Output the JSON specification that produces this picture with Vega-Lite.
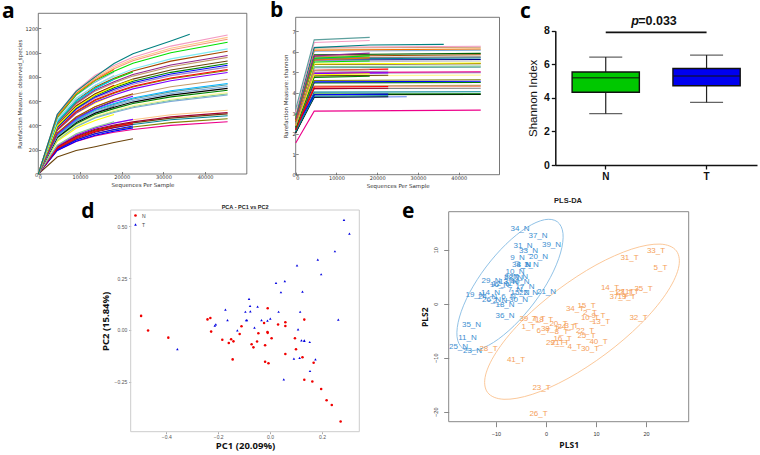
{"$schema":"https://vega.github.io/schema/vega-lite/v6.json","width":760,"height":455,"padding":0,"autosize":"none","background":"white","config":{"view":{"stroke":null},"axis":{"grid":false}},
"resolve":{"scale":{"x":"independent","y":"independent","color":"independent","shape":"independent"},"axis":{"x":"independent","y":"independent"}},
"layer":[
{"resolve":{"axis":{"x":"independent","y":"independent"}},"layer":[
{"data":{"values":[{}]},"mark":{"type":"rect","fillOpacity":0,"stroke":"#555","strokeWidth":0.8},"encoding":{"x":{"datum":0,"type":"quantitative","scale":{"domain":[0,50000],"range":[38.3,246.8],"nice":false,"zero":false},"axis":{"orient":"bottom","offset":-281,"values":[0,10000,20000,30000,40000],"format":"d","title":"Sequences Per Sample","domain":false,"tickSize":-2.5,"tickColor":"#333","tickWidth":0.6,"labelFont":"DejaVu Sans","labelFontSize":5,"labelColor":"#333","labelPadding":3,"titleFont":"DejaVu Sans","titleFontSize":5.5,"titleFontWeight":"normal","titleColor":"#333","titlePadding":3},"title":"Sequences Per Sample"},"x2":{"datum":50000},"y":{"datum":0,"type":"quantitative","scale":{"domain":[0,1323],"range":[174,13.3],"nice":false,"zero":false},"axis":{"orient":"left","offset":-38.3,"values":[0,200,400,600,800,1000,1200],"format":"d","title":"Rarefaction Measure: observed_species","domain":false,"tickSize":-2.5,"tickColor":"#333","tickWidth":0.6,"labelFont":"DejaVu Sans","labelFontSize":5,"labelColor":"#333","labelPadding":3,"titleFont":"DejaVu Sans","titleFontSize":5.5,"titleFontWeight":"normal","titleColor":"#333","titlePadding":3}},"y2":{"datum":1323}}},
{"data":{"values":[
{"s":"s53","p0":0,"p1":140,"p2":193,"p3":225,"p4":260,"p5":290},
{"s":"s31","p0":0,"p1":194,"p2":267,"p3":314,"p4":344,"p5":366,"p6":400,"p7":430},
{"s":"s30","p0":0,"p1":205,"p2":282,"p3":332,"p4":364,"p5":387,"p6":423,"p7":455},
{"s":"s29","p0":0,"p1":216,"p2":298,"p3":350,"p4":384,"p5":408,"p6":446,"p7":480},
{"s":"s28","p0":0,"p1":223,"p2":307,"p3":361,"p4":396,"p5":421,"p6":460,"p7":495},
{"s":"s27","p0":0,"p1":227,"p2":313,"p3":369,"p4":404,"p5":429,"p6":470,"p7":505},
{"s":"s26","p0":0,"p1":236,"p2":325,"p3":383,"p4":420,"p5":446,"p6":488,"p7":525},
{"s":"s52","p0":0,"p1":194,"p2":270,"p3":319,"p4":353,"p5":380},
{"s":"s51","p0":0,"p1":201,"p2":280,"p3":332,"p4":367,"p5":395},
{"s":"s50","p0":0,"p1":209,"p2":291,"p3":344,"p4":381,"p5":410},
{"s":"s49","p0":0,"p1":214,"p2":298,"p3":353,"p4":391,"p5":420},
{"s":"s48","p0":0,"p1":230,"p2":320,"p3":378,"p4":419,"p5":450},
{"s":"s43","p0":0,"p1":237,"p2":331,"p3":387,"p4":430},
{"s":"s42","p0":0,"p1":270,"p2":377,"p3":441,"p4":490},
{"s":"s41","p0":0,"p1":286,"p2":400,"p3":468,"p4":520},
{"s":"s40","p0":0,"p1":308,"p2":431,"p3":504,"p4":560},
{"s":"s39","p0":0,"p1":330,"p2":462,"p3":540,"p4":600},
{"s":"s38","p0":0,"p1":358,"p2":500,"p3":585,"p4":650},
{"s":"s25","p0":0,"p1":280,"p2":390,"p3":462,"p4":507,"p5":546,"p6":598,"p7":650},
{"s":"s24","p0":0,"p1":284,"p2":396,"p3":469,"p4":515,"p5":554,"p6":607,"p7":660},
{"s":"s23","p0":0,"p1":288,"p2":402,"p3":476,"p4":523,"p5":563,"p6":616,"p7":670},
{"s":"s22","p0":0,"p1":297,"p2":414,"p3":490,"p4":538,"p5":580,"p6":635,"p7":690},
{"s":"s21","p0":0,"p1":303,"p2":423,"p3":501,"p4":550,"p5":592,"p6":649,"p7":705},
{"s":"s20","p0":0,"p1":310,"p2":432,"p3":511,"p4":562,"p5":605,"p6":662,"p7":720},
{"s":"s19","p0":0,"p1":316,"p2":441,"p3":522,"p4":573,"p5":617,"p6":676,"p7":735},
{"s":"s18","p0":0,"p1":320,"p2":447,"p3":529,"p4":581,"p5":626,"p6":685,"p7":745},
{"s":"s17","p0":0,"p1":335,"p2":468,"p3":554,"p4":608,"p5":655,"p6":718,"p7":780},
{"s":"s47","p0":0,"p1":326,"p2":454,"p3":538,"p4":595,"p5":640},
{"s":"s46","p0":0,"p1":337,"p2":469,"p3":554,"p4":614,"p5":660},
{"s":"s37","p0":0,"p1":385,"p2":539,"p3":630,"p4":700},
{"s":"s36","p0":0,"p1":402,"p2":562,"p3":657,"p4":730},
{"s":"s16","p0":0,"p1":359,"p2":501,"p3":593,"p4":651,"p5":701,"p6":768,"p7":835},
{"s":"s15","p0":0,"p1":366,"p2":511,"p3":605,"p4":665,"p5":716,"p6":784,"p7":852},
{"s":"s14","p0":0,"p1":370,"p2":516,"p3":611,"p4":671,"p5":722,"p6":791,"p7":860},
{"s":"s13","p0":0,"p1":378,"p2":528,"p3":625,"p4":686,"p5":739,"p6":810,"p7":880},
{"s":"s12","p0":0,"p1":385,"p2":537,"p3":635,"p4":698,"p5":752,"p6":823,"p7":895},
{"s":"s11","p0":0,"p1":391,"p2":546,"p3":646,"p4":710,"p5":764,"p6":837,"p7":910},
{"s":"s10","p0":0,"p1":400,"p2":558,"p3":660,"p4":725,"p5":781,"p6":856,"p7":930},
{"s":"s09","p0":0,"p1":413,"p2":576,"p3":682,"p4":749,"p5":806,"p6":883,"p7":960},
{"s":"s08","p0":0,"p1":419,"p2":585,"p3":692,"p4":760,"p5":819,"p6":897,"p7":975},
{"s":"s07","p0":0,"p1":434,"p2":606,"p3":717,"p4":788,"p5":848,"p6":929,"p7":1010},
{"s":"s45","p0":0,"p1":395,"p2":550,"p3":651,"p4":721,"p5":775},
{"s":"s44","p0":0,"p1":428,"p2":596,"p3":706,"p4":781,"p5":840},
{"s":"s35","p0":0,"p1":429,"p2":601,"p3":702,"p4":780},
{"s":"s34","p0":0,"p1":446,"p2":624,"p3":729,"p4":810},
{"s":"s33","p0":0,"p1":462,"p2":647,"p3":756,"p4":840},
{"s":"s06","p0":0,"p1":443,"p2":618,"p3":731,"p4":803,"p5":865,"p6":948,"p7":1030},
{"s":"s05","p0":0,"p1":467,"p2":651,"p3":770,"p4":846,"p5":911,"p6":998,"p7":1085},
{"s":"s04","p0":0,"p1":477,"p2":666,"p3":788,"p4":866,"p5":932,"p6":1021,"p7":1110},
{"s":"s03","p0":0,"p1":484,"p2":675,"p3":799,"p4":878,"p5":945,"p6":1035,"p7":1125},
{"s":"s02","p0":0,"p1":492,"p2":687,"p3":813,"p4":893,"p5":962,"p6":1053,"p7":1145},
{"s":"s32","p0":0,"p1":473,"p2":662,"p3":774,"p4":860},
{"s":"s01","p0":0,"p1":490,"p2":680,"p3":800,"p4":910,"p5":990,"p6":1095,"p8":1150}
]},"transform":[{"fold":["p0","p1","p2","p3","p4","p5","p6","p7","p8"],"as":["k","v"]},{"lookup":"k","from":{"data":{"values":[{"k":"p0","x":0},{"k":"p1","x":4540},{"k":"p2","x":9080},{"k":"p3","x":13620},{"k":"p4","x":18160},{"k":"p5","x":22700},{"k":"p6","x":31780},{"k":"p7","x":45400},{"k":"p8","x":36320}]},"key":"k","fields":["x"]}}],
"mark":{"type":"line","strokeWidth":1.1,"invalid":"filter"},"encoding":{"x":{"field":"x","type":"quantitative","axis":null},"y":{"field":"v","type":"quantitative","axis":null},"color":{"field":"s","type":"nominal","legend":null,"scale":{"range":["#008080","#f49ac2","#fcc688","#f79679","#00e000","#7cecf4","#a54700","#91278d","#c49c6b","#6b440b","#008000","#0000ff","#a287bf","#ff0000","#808000","#8000ff","#c49c6b","#00b6ff","#5da09e","#7da9d8","#000000","#008000","#fff899","#80c99b","#7da9d8","#fcc688","#a00030","#6b440b","#008695","#808000","#ed008a","#f27304","#7da9d8","#c0c0c0","#00b6ff","#ff0000","#f79679","#ffff00","#008000","#000000","#ffff00","#ffff00","#80c99b","#00e000","#ffff00","#a54700","#8000ff","#8000ff","#ff0000","#a00030","#0000ff","#0000ff","#6b440b"]}}}},
{"data":{"values":[{}]},"mark":{"type":"text","text":"a","font":"Open Sans","fontWeight":"bold","fontSize":21,"align":"left","baseline":"alphabetic","color":"#000"},"encoding":{"x":{"datum":-8705,"type":"quantitative","axis":null},"y":{"datum":1284,"type":"quantitative","axis":null}}}
]},
{"resolve":{"axis":{"x":"independent","y":"independent"}},"layer":[
{"data":{"values":[{}]},"mark":{"type":"rect","fillOpacity":0,"stroke":"#555","strokeWidth":0.8},"encoding":{"x":{"datum":0,"type":"quantitative","scale":{"domain":[0,50000],"range":[295.7,499.5],"nice":false,"zero":false},"axis":{"orient":"bottom","offset":-280.3,"values":[0,10000,20000,30000,40000],"format":"d","title":"Sequences Per Sample","domain":false,"tickSize":-2.5,"tickColor":"#333","tickWidth":0.6,"labelFont":"DejaVu Sans","labelFontSize":5,"labelColor":"#333","labelPadding":3,"titleFont":"DejaVu Sans","titleFontSize":5.5,"titleFontWeight":"normal","titleColor":"#333","titlePadding":3},"title":"Sequences Per Sample"},"x2":{"datum":50000},"y":{"datum":0,"type":"quantitative","scale":{"domain":[0,7.68],"range":[174.7,17.3],"nice":false,"zero":false},"axis":{"orient":"left","offset":-295.7,"values":[0,1,2,3,4,5,6,7],"title":"Rarefaction Measure: shannon","domain":false,"tickSize":-2.5,"tickColor":"#333","tickWidth":0.6,"labelFont":"DejaVu Sans","labelFontSize":5,"labelColor":"#333","labelPadding":3,"titleFont":"DejaVu Sans","titleFontSize":5.5,"titleFontWeight":"normal","titleColor":"#333","titlePadding":4}},"y2":{"datum":7.68}}},
{"data":{"values":[
{"s":"s30","p0":1.55,"p1":3.1,"p6":3.15},
{"s":"s29","p0":2.05,"p1":3.9,"p6":3.92},
{"s":"s28","p0":2.1,"p1":3.93,"p6":3.95},
{"s":"s27","p0":2.1,"p1":4.03,"p6":4.05},
{"s":"s26","p0":2.1,"p1":4.2,"p6":4.22},
{"s":"s25","p0":2.15,"p1":4.28,"p6":4.3},
{"s":"s24","p0":2.15,"p1":4.33,"p6":4.36},
{"s":"s23","p0":2.2,"p1":4.48,"p6":4.5},
{"s":"s22","p0":2.2,"p1":4.53,"p6":4.56},
{"s":"s21","p0":2.25,"p1":4.6,"p6":4.63},
{"s":"s20","p0":2.3,"p1":4.82,"p6":4.86},
{"s":"s19","p0":2.3,"p1":4.95,"p6":4.98},
{"s":"s18","p0":2.35,"p1":4.98,"p6":5.02},
{"s":"s17","p0":2.4,"p1":5.22,"p6":5.25},
{"s":"s16","p0":2.45,"p1":5.28,"p6":5.3},
{"s":"s15","p0":2.45,"p1":5.38,"p6":5.42},
{"s":"s14","p0":2.5,"p1":5.4,"p6":5.45},
{"s":"s13","p0":2.5,"p1":5.5,"p6":5.55},
{"s":"s12","p0":2.55,"p1":5.6,"p6":5.62},
{"s":"s11","p0":2.6,"p1":5.65,"p6":5.7},
{"s":"s10","p0":2.6,"p1":5.7,"p6":5.75},
{"s":"s09","p0":2.65,"p1":5.78,"p6":5.85},
{"s":"s08","p0":2.7,"p1":5.85,"p6":5.92},
{"s":"s07","p0":2.8,"p1":6.02,"p6":6.08},
{"s":"s06","p0":2.8,"p1":6.08,"p6":6.13},
{"s":"s05","p0":2.85,"p1":6.18,"p6":6.22},
{"s":"s04","p0":2.9,"p1":6.22,"p6":6.27},
{"s":"s03","p0":2.9,"p1":6.2,"p2":6.33,"p5":6.36},
{"s":"s47","p0":2.3,"p1":3.77,"p4":3.8},
{"s":"s46","p0":2.05,"p1":3.78,"p3":3.8},
{"s":"s45","p0":2.1,"p1":3.83,"p3":3.85},
{"s":"s44","p0":2.3,"p1":3.9,"p3":3.93},
{"s":"s43","p0":2.2,"p1":4.2,"p3":4.22},
{"s":"s42","p0":2.2,"p1":4.28,"p3":4.3},
{"s":"s41","p0":2.3,"p1":4.82,"p3":4.85},
{"s":"s40","p0":2.4,"p1":4.93,"p3":4.97},
{"s":"s39","p0":2.4,"p1":5.0,"p3":5.05},
{"s":"s38","p0":2.4,"p1":5.1,"p3":5.15},
{"s":"s37","p0":2.3,"p1":4.75,"p2":4.8},
{"s":"s36","p0":2.4,"p1":4.88,"p2":4.92},
{"s":"s35","p0":2.4,"p1":5.08,"p2":5.12},
{"s":"s34","p0":2.7,"p1":5.5,"p2":5.55},
{"s":"s33","p0":2.6,"p1":5.6,"p2":5.7},
{"s":"s32","p0":2.8,"p1":5.68,"p2":5.8},
{"s":"s31","p0":2.7,"p1":5.8,"p2":5.93},
{"s":"s02","p0":3.0,"p1":6.45,"p2":6.55},
{"s":"s01","p0":3.2,"p1":6.58,"p2":6.7}
]},"transform":[{"fold":["p0","p1","p2","p3","p4","p5","p6"],"as":["k","v"]},{"lookup":"k","from":{"data":{"values":[{"k":"p0","x":0},{"k":"p1","x":4540},{"k":"p2","x":18160},{"k":"p3","x":22700},{"k":"p4","x":27240},{"k":"p5","x":36320},{"k":"p6","x":45400}]},"key":"k","fields":["x"]}}],
"mark":{"type":"line","strokeWidth":1.1,"invalid":"filter"},"encoding":{"x":{"field":"x","type":"quantitative","axis":null},"y":{"field":"v","type":"quantitative","axis":null},"color":{"field":"s","type":"nominal","legend":null,"scale":{"range":["#5da09e","#f49ac2","#008080","#f49ac2","#c49c6b","#f27304","#7da9d8","#006000","#a54700","#808080","#0080a0","#000080","#c0c0c0","#ffff00","#6b440b","#80c99b","#5da09e","#ed008a","#a287bf","#fff899","#808000","#0000ff","#008000","#c49c6b","#f79679","#808080","#008695","#008000","#000000","#ed008a","#91278d","#00e000","#f27304","#00e000","#c49c6b","#ffff00","#008000","#ff0000","#a287bf","#8000ff","#6b440b","#ff0000","#a00030","#0000ff","#008695","#000000","#5b7cf0"]}}}},
{"data":{"values":[{}]},"mark":{"type":"text","text":"b","font":"Open Sans","fontWeight":"bold","fontSize":21,"align":"left","baseline":"alphabetic","color":"#000"},"encoding":{"x":{"datum":-6290,"type":"quantitative","axis":null},"y":{"datum":7.69,"type":"quantitative","axis":null}}}
]},
{"resolve":{"axis":{"x":"independent","y":"independent"}},"data":{"values":[{"g":"N","low":3.06,"q1":4.33,"med":5.2,"q3":5.54,"high":6.43},{"g":"T","low":3.73,"q1":4.72,"med":5.3,"q3":5.75,"high":6.55}]},"layer":[
{"mark":{"type":"rule","color":"#222","strokeWidth":1.2},"encoding":{"x":{"field":"g","type":"nominal","scale":{"type":"band","domain":["N","T"],"range":[555.3,757],"paddingInner":0.333,"paddingOuter":0.1667},"axis":{"orient":"bottom","offset":-290,"title":null,"labelAngle":0,"labelFont":"Liberation Sans","labelFontSize":10,"labelFontWeight":"bold","labelColor":"#111","domainColor":"#111","domainWidth":1.5,"tickColor":"#111","tickWidth":1.3,"tickSize":4,"labelPadding":2}},"y":{"field":"low","type":"quantitative","scale":{"domain":[0,8],"range":[165,30.7],"nice":false,"zero":false},"axis":{"orient":"left","offset":-555.3,"values":[0,2,4,6,8],"title":"Shannon Index","labelFont":"Liberation Sans","labelFontSize":10.5,"labelFontWeight":"bold","labelColor":"#111","domainColor":"#111","domainWidth":1.5,"tickColor":"#111","tickWidth":1.3,"tickSize":4,"labelPadding":2,"titleFont":"Liberation Sans","titleFontSize":11.5,"titleFontWeight":"normal","titleColor":"#111","titlePadding":5}},"y2":{"field":"high"}}},
{"mark":{"type":"bar","stroke":"#111","strokeWidth":1.4},"encoding":{"x":{"field":"g","type":"nominal","axis":null},"y":{"field":"q1","type":"quantitative","axis":null},"y2":{"field":"q3"},"color":{"field":"g","type":"nominal","legend":null,"scale":{"domain":["N","T"],"range":["#00c800","#0000f0"]}}}},
{"mark":{"type":"tick","size":67,"thickness":1.4,"color":"#111"},"encoding":{"x":{"field":"g","type":"nominal","axis":null},"y":{"field":"med","type":"quantitative","axis":null}}},
{"mark":{"type":"tick","size":33,"thickness":1.2,"color":"#222"},"encoding":{"x":{"field":"g","type":"nominal","axis":null},"y":{"field":"low","type":"quantitative","axis":null}}},
{"mark":{"type":"tick","size":33,"thickness":1.2,"color":"#222"},"encoding":{"x":{"field":"g","type":"nominal","axis":null},"y":{"field":"high","type":"quantitative","axis":null}}},
{"data":{"values":[{}]},"mark":{"type":"rule","color":"#111","strokeWidth":1.6},"encoding":{"x":{"datum":"N","type":"nominal","axis":null},"x2":{"datum":"T"},"y":{"datum":7.9,"type":"quantitative","axis":null}}},
{"data":{"values":[{}]},"mark":{"type":"text","text":"p","font":"Liberation Sans","fontWeight":"bold","fontStyle":"italic","fontSize":12.5,"align":"left","baseline":"alphabetic","dx":25.5,"color":"#111"},"encoding":{"x":{"datum":"N","type":"nominal","axis":null},"y":{"datum":8.33,"type":"quantitative","axis":null}}},
{"data":{"values":[{}]},"mark":{"type":"text","text":"=0.033","font":"Liberation Sans","fontWeight":"bold","fontSize":12.5,"align":"left","baseline":"alphabetic","dx":32.5,"color":"#111"},"encoding":{"x":{"datum":"N","type":"nominal","axis":null},"y":{"datum":8.33,"type":"quantitative","axis":null}}},
{"data":{"values":[{}]},"mark":{"type":"text","text":"c","font":"Open Sans","fontWeight":"bold","fontSize":21,"align":"left","baseline":"alphabetic","dx":-85.7,"color":"#000"},"encoding":{"x":{"datum":"N","type":"nominal","axis":null},"y":{"datum":8.76,"type":"quantitative","axis":null}}}
]},
{"resolve":{"axis":{"x":"independent","y":"independent"}},"layer":[
{"data":{"values":[{}]},"mark":{"type":"rect","fillOpacity":0,"stroke":"#ccc","strokeWidth":1},"encoding":{"x":{"datum":-0.537,"type":"quantitative","scale":{"domain":[-0.537,0.344],"range":[130.7,359.3],"nice":false,"zero":false},"axis":{"orient":"bottom","offset":-23.3,"values":[-0.4,-0.2,0,0.2],"format":".1f","title":"PC1 (20.09%)","domain":false,"tickSize":2,"tickColor":"#aaa","labelFont":"Liberation Sans","labelFontSize":5,"labelColor":"#555","labelPadding":1,"titleFont":"Open Sans","titleFontSize":9.5,"titleFontWeight":"bold","titleColor":"#111","titlePadding":1},"title":"PC1 (20.09%)"},"x2":{"datum":0.344},"y":{"datum":-0.491,"type":"quantitative","scale":{"domain":[-0.491,0.579],"range":[431.7,210],"nice":false,"zero":false},"axis":{"orient":"left","offset":-130.7,"values":[-0.25,0,0.25,0.5],"format":".2f","title":"PC2 (15.84%)","domain":false,"tickSize":2,"tickColor":"#aaa","labelFont":"Liberation Sans","labelFontSize":5,"labelColor":"#555","labelPadding":2,"titleFont":"Open Sans","titleFontSize":9.5,"titleFontWeight":"bold","titleColor":"#111","titlePadding":4}},"y2":{"datum":0.579}}},
{"data":{"values":[
{"g":"N","x":-0.497,"y":0.068},{"g":"N","x":-0.47,"y":-0.003},{"g":"N","x":-0.392,"y":-0.037},{"g":"N","x":-0.241,"y":0.051},{"g":"N","x":-0.23,"y":0.058},{"g":"N","x":-0.227,"y":-0.008},{"g":"N","x":-0.184,"y":-0.047},{"g":"N","x":-0.159,"y":-0.063},{"g":"N","x":-0.15,"y":-0.045},{"g":"N","x":-0.141,"y":-0.055},{"g":"N","x":-0.144,"y":-0.142},{"g":"N","x":-0.117,"y":-0.019},{"g":"N","x":-0.11,"y":0.018},{"g":"N","x":-0.071,"y":-0.069},{"g":"N","x":-0.064,"y":-0.084},{"g":"N","x":-0.05,"y":-0.056},{"g":"N","x":-0.045,"y":-0.016},{"g":"N","x":-0.023,"y":0.034},{"g":"N","x":-0.019,"y":-0.074},{"g":"N","x":-0.019,"y":-0.153},{"g":"N","x":-0.01,"y":-0.01},{"g":"N","x":-0.009,"y":-0.014},{"g":"N","x":-0.006,"y":-0.161},{"g":"N","x":-0.009,"y":0.105},{"g":"N","x":0.006,"y":-0.04},{"g":"N","x":0.031,"y":0.026},{"g":"N","x":0.059,"y":0.037},{"g":"N","x":0.059,"y":0.019},{"g":"N","x":0.059,"y":-0.116},{"g":"N","x":0.096,"y":-0.04},{"g":"N","x":0.1,"y":-0.093},{"g":"N","x":0.125,"y":-0.132},{"g":"N","x":0.132,"y":0.05},{"g":"N","x":0.168,"y":-0.158},{"g":"N","x":0.132,"y":-0.24},{"g":"N","x":0.163,"y":-0.249},{"g":"N","x":0.197,"y":-0.285},{"g":"N","x":0.218,"y":-0.339},{"g":"N","x":0.238,"y":-0.362},{"g":"N","x":0.272,"y":-0.442},
{"g":"T","x":-0.357,"y":-0.092},{"g":"T","x":-0.213,"y":0.021},{"g":"T","x":-0.209,"y":0.027},{"g":"T","x":-0.172,"y":0.098},{"g":"T","x":-0.164,"y":0.048},{"g":"T","x":-0.126,"y":-0.002},{"g":"T","x":-0.092,"y":0.048},{"g":"T","x":-0.089,"y":0.048},{"g":"T","x":-0.095,"y":0.088},{"g":"T","x":-0.081,"y":0.15},{"g":"T","x":-0.077,"y":0.116},{"g":"T","x":-0.076,"y":0.09},{"g":"T","x":-0.06,"y":0.011},{"g":"T","x":-0.048,"y":0.113},{"g":"T","x":-0.033,"y":0.048},{"g":"T","x":-0.01,"y":0.045},{"g":"T","x":0.001,"y":0.055},{"g":"T","x":0.033,"y":0.088},{"g":"T","x":0.023,"y":0.227},{"g":"T","x":0.057,"y":0.236},{"g":"T","x":0.042,"y":0.182},{"g":"T","x":0.053,"y":-0.238},{"g":"T","x":0.092,"y":-0.138},{"g":"T","x":0.104,"y":0.312},{"g":"T","x":0.108,"y":0.003},{"g":"T","x":0.116,"y":0.088},{"g":"T","x":0.125,"y":0.185},{"g":"T","x":0.114,"y":-0.135},{"g":"T","x":0.121,"y":-0.05},{"g":"T","x":0.132,"y":-0.05},{"g":"T","x":0.132,"y":-0.053},{"g":"T","x":0.153,"y":-0.058},{"g":"T","x":0.154,"y":-0.198},{"g":"T","x":0.175,"y":-0.142},{"g":"T","x":0.184,"y":0.339},{"g":"T","x":0.197,"y":0.269},{"g":"T","x":0.25,"y":0.38},{"g":"T","x":0.263,"y":0.05},{"g":"T","x":0.285,"y":0.531},{"g":"T","x":0.306,"y":0.465}
]},"mark":{"type":"point","filled":true,"opacity":1,"size":6.5},"encoding":{"x":{"field":"x","type":"quantitative","axis":null},"y":{"field":"y","type":"quantitative","axis":null},"color":{"field":"g","type":"nominal","scale":{"domain":["N","T"],"range":["#f00000","#0000e0"]},"legend":{"title":null,"orient":"none","legendX":133,"legendY":213,"labelFont":"Liberation Sans","labelFontSize":5,"labelColor":"#444","symbolSize":7,"rowPadding":3,"padding":0}},"shape":{"field":"g","type":"nominal","scale":{"domain":["N","T"],"range":["circle","triangle-up"]},"legend":{"title":null,"orient":"none","legendX":133,"legendY":213,"labelFont":"Liberation Sans","labelFontSize":5,"labelColor":"#444","symbolSize":7,"rowPadding":3,"padding":0}}}},
{"data":{"values":[{}]},"mark":{"type":"text","text":"PCA - PC1 vs PC2","font":"Liberation Sans","fontWeight":"bold","fontSize":5.5,"align":"center","baseline":"alphabetic","color":"#222"},"encoding":{"x":{"datum":-0.096,"type":"quantitative","axis":null},"y":{"datum":0.586,"type":"quantitative","axis":null}}},
{"data":{"values":[{}]},"mark":{"type":"text","text":"d","font":"Open Sans","fontWeight":"bold","fontSize":21,"align":"left","baseline":"alphabetic","color":"#000"},"encoding":{"x":{"datum":-0.728,"type":"quantitative","axis":null},"y":{"datum":0.54,"type":"quantitative","axis":null}}}
]},
{"resolve":{"axis":{"x":"independent","y":"independent"}},"layer":[
{"data":{"values":[{}]},"mark":{"type":"rect","fillOpacity":0,"stroke":"#888","strokeWidth":1},"encoding":{"x":{"datum":-19.46,"type":"quantitative","scale":{"domain":[-19.46,28.54],"range":[448.7,688.7],"nice":false,"zero":false},"axis":{"orient":"bottom","offset":-33.3,"values":[-10,0,10,20],"title":"PLS1","domain":false,"tickSize":5,"tickColor":"#888","labelFont":"Liberation Sans","labelFontSize":5.5,"labelColor":"#333","labelPadding":5,"titleFont":"Open Sans","titleFontSize":8.5,"titleFontWeight":"bold","titleColor":"#111","titlePadding":3},"title":"PLS1"},"x2":{"datum":28.54},"y":{"datum":-21.85,"type":"quantitative","scale":{"domain":[-21.85,17.04],"range":[421.7,211.7],"nice":false,"zero":false},"axis":{"orient":"left","offset":-448.7,"values":[-20,-10,0,10],"title":"PLS2","domain":false,"tickSize":5,"tickColor":"#888","labelAngle":270,"labelFont":"Liberation Sans","labelFontSize":5.5,"labelColor":"#333","labelPadding":5,"titleFont":"Open Sans","titleFontSize":8.5,"titleFontWeight":"bold","titleColor":"#111","titlePadding":4}},"y2":{"datum":17.04}}},
{"data":{"values":[
{"g":"N","i":1,"x":2.28,"y":15.17},{"g":"N","i":2,"x":3.4,"y":13.0},{"g":"N","i":3,"x":2.9,"y":9.39},{"g":"N","i":4,"x":0.88,"y":4.87},{"g":"N","i":5,"x":-2.4,"y":0.13},{"g":"N","i":6,"x":-6.4,"y":-4.09},{"g":"N","i":7,"x":-10.5,"y":-7.17},{"g":"N","i":8,"x":-14.12,"y":-8.63},{"g":"N","i":9,"x":-16.68,"y":-8.24},{"g":"N","i":10,"x":-17.8,"y":-6.07},{"g":"N","i":11,"x":-17.3,"y":-2.46},{"g":"N","i":12,"x":-15.28,"y":2.06},{"g":"N","i":13,"x":-12,"y":6.8},{"g":"N","i":14,"x":-8,"y":11.02},{"g":"N","i":15,"x":-3.9,"y":14.09},{"g":"N","i":16,"x":-0.28,"y":15.56},
{"g":"T","i":1,"x":26.08,"y":9.78},{"g":"T","i":2,"x":26.48,"y":6.52},{"g":"T","i":3,"x":23.94,"y":1.74},{"g":"T","i":4,"x":18.88,"y":-3.8},{"g":"T","i":5,"x":12,"y":-9.26},{"g":"T","i":6,"x":4.4,"y":-13.83},{"g":"T","i":7,"x":-2.74,"y":-16.78},{"g":"T","i":8,"x":-8.4,"y":-17.7},{"g":"T","i":9,"x":-11.68,"y":-16.44},{"g":"T","i":10,"x":-12.08,"y":-13.19},{"g":"T","i":11,"x":-9.54,"y":-8.41},{"g":"T","i":12,"x":-4.48,"y":-2.87},{"g":"T","i":13,"x":2.4,"y":2.59},{"g":"T","i":14,"x":10,"y":7.17},{"g":"T","i":15,"x":17.14,"y":10.11},{"g":"T","i":16,"x":22.8,"y":11.04}
]},"mark":{"type":"line","interpolate":"cardinal-closed","strokeWidth":0.9},"encoding":{"x":{"field":"x","type":"quantitative","axis":null},"y":{"field":"y","type":"quantitative","axis":null},"order":{"field":"i","type":"quantitative"},"color":{"field":"g","type":"nominal","legend":null,"scale":{"domain":["N","T"],"range":["#84bbe3","#fbc28e"]}}}},
{"data":{"values":[
{"l":"34_N","g":"N","x":-5.2,"y":13.9},{"l":"37_N","g":"N","x":-1.6,"y":12.5},{"l":"31_N","g":"N","x":-4.6,"y":10.6},{"l":"33_N","g":"N","x":-3.5,"y":9.8},{"l":"39_N","g":"N","x":1.1,"y":10.9},{"l":"20_N","g":"N","x":-1.5,"y":8.6},{"l":"9_N","g":"N","x":-5.7,"y":8.4},{"l":"38_N","g":"N","x":-4.9,"y":7.2},{"l":"3_N","g":"N","x":-2.9,"y":7.2},{"l":"4_N","g":"N","x":-4.5,"y":7.2},{"l":"10_N","g":"N","x":-6.2,"y":5.9},{"l":"28_N","g":"N","x":-6.5,"y":4.7},{"l":"29_N","g":"N","x":-11,"y":4.2},{"l":"12_N","g":"N","x":-8.9,"y":3.6},{"l":"19_N","g":"N","x":-14.2,"y":1.7},{"l":"14_N","g":"N","x":-11.1,"y":2},{"l":"24_N","g":"N","x":-11.7,"y":1.3},{"l":"26_N","g":"N","x":-10.9,"y":0.7},{"l":"2_N","g":"N","x":-9.2,"y":0.5},{"l":"18_N","g":"N","x":-8.2,"y":-0.3},{"l":"30_N","g":"N","x":-5.5,"y":0.6},{"l":"6_N","g":"N","x":-7.5,"y":1.3},{"l":"16_N","g":"N","x":-9.3,"y":3.5},{"l":"13_N","g":"N","x":-7.5,"y":4},{"l":"7_N","g":"N","x":-6.2,"y":2.5},{"l":"15_N","g":"N","x":-5.2,"y":1.9},{"l":"22_N","g":"N","x":-3.5,"y":1.9},{"l":"17_N","g":"N","x":-4.2,"y":3.1},{"l":"27_N","g":"N","x":-5.5,"y":5},{"l":"40_N","g":"N","x":-5.2,"y":4.1},{"l":"8_N","g":"N","x":-6.9,"y":5},{"l":"21_N","g":"N","x":0.1,"y":2.2},{"l":"36_N","g":"N","x":-8.2,"y":-2.3},{"l":"35_N","g":"N","x":-14.9,"y":-4},{"l":"11_N","g":"N","x":-15.7,"y":-6.4},{"l":"25_N","g":"N","x":-17.5,"y":-8.1},{"l":"23_N","g":"N","x":-14.7,"y":-8.8},
{"l":"28_T","g":"T","x":-11.5,"y":-8.3},{"l":"41_T","g":"T","x":-6,"y":-10.5},{"l":"23_T","g":"T","x":-0.9,"y":-15.7},{"l":"26_T","g":"T","x":-1.5,"y":-20.4},{"l":"39_T","g":"T","x":-3.5,"y":-2.9},{"l":"1_T","g":"T","x":-3.5,"y":-4.4},{"l":"7_T","g":"T","x":-1.5,"y":-2.8},{"l":"18_T","g":"T","x":-0.4,"y":-3.1},{"l":"8_T","g":"T","x":3.1,"y":-5.3},{"l":"6_T","g":"T","x":-0.5,"y":-5},{"l":"38_T","g":"T","x":0.8,"y":-4.6},{"l":"24_T","g":"T","x":4.1,"y":-4.3},{"l":"20_T","g":"T","x":2.5,"y":-3.8},{"l":"3_T","g":"T","x":5.1,"y":-4.1},{"l":"15_T","g":"T","x":8.1,"y":-0.4},{"l":"34_T","g":"T","x":5.8,"y":-1},{"l":"2_T","g":"T","x":8.8,"y":-1.8},{"l":"9_T","g":"T","x":10.5,"y":-2.2},{"l":"10_T","g":"T","x":8.8,"y":-2.7},{"l":"13_T","g":"T","x":11,"y":-3.4},{"l":"22_T","g":"T","x":7.8,"y":-5},{"l":"25_T","g":"T","x":8.1,"y":-5.9},{"l":"16_T","g":"T","x":3.3,"y":-6.5},{"l":"21_T","g":"T","x":2.8,"y":-7.3},{"l":"29_T","g":"T","x":1.8,"y":-7.3},{"l":"4_T","g":"T","x":5.7,"y":-8.1},{"l":"30_T","g":"T","x":8.8,"y":-8.3},{"l":"40_T","g":"T","x":10.5,"y":-7.1},{"l":"14_T","g":"T","x":12.8,"y":3},{"l":"33_T","g":"T","x":22,"y":9.8},{"l":"31_T","g":"T","x":16.7,"y":8.4},{"l":"5_T","g":"T","x":22.9,"y":6.7},{"l":"35_T","g":"T","x":19.5,"y":2.7},{"l":"27_T","g":"T","x":15.8,"y":2.2},{"l":"37_T","g":"T","x":14.5,"y":1.2},{"l":"19_T","g":"T","x":16.1,"y":1.2},{"l":"11_T","g":"T","x":16.8,"y":2.2},{"l":"12_T","g":"T","x":15.5,"y":1.9},{"l":"32_T","g":"T","x":18.5,"y":-2.7}
]},"mark":{"type":"text","font":"Liberation Sans","fontSize":8,"align":"center","baseline":"middle"},"encoding":{"x":{"field":"x","type":"quantitative","axis":null},"y":{"field":"y","type":"quantitative","axis":null},"text":{"field":"l","type":"nominal"},"fill":{"field":"g","type":"nominal","legend":null,"scale":{"domain":["N","T"],"range":["#3d8fd1","#f5a05a"]}}}},
{"data":{"values":[{}]},"mark":{"type":"text","text":"PLS-DA","font":"Liberation Sans","fontWeight":"bold","fontSize":7.5,"align":"center","baseline":"alphabetic","color":"#222"},"encoding":{"x":{"datum":4.4,"type":"quantitative","axis":null},"y":{"datum":18.7,"type":"quantitative","axis":null}}},
{"data":{"values":[{}]},"mark":{"type":"text","text":"e","font":"Open Sans","fontWeight":"bold","fontSize":21,"align":"left","baseline":"alphabetic","color":"#000"},"encoding":{"x":{"datum":-28.8,"type":"quantitative","axis":null},"y":{"datum":15.9,"type":"quantitative","axis":null}}}
]}
]}
